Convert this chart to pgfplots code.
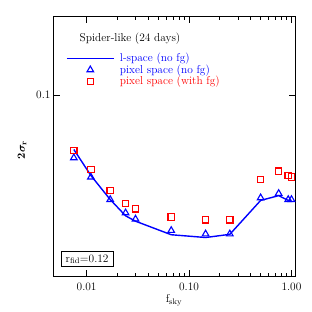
\documentclass[border=0pt]{standalone}
\usepackage{pgfplots}
\usepackage{bm}
\pgfplotsset{compat=1.18}
\definecolor{pblue}{RGB}{0,0,255}
\definecolor{pred}{RGB}{255,0,0}
\pgfplotsset{
  lineleg/.style={legend image code/.code={\draw[pblue, line width=1.2pt] (0pt,0pt) -- (47pt,0pt);}},
  markleg/.style={legend image code/.code={\draw[mark repeat=2,mark phase=2,##1] plot coordinates {(0pt,0pt) (23.5pt,0pt) (47pt,0pt)};}},
}
\begin{document}
\begin{tikzpicture}[font=\fontsize{11.4}{13.5}\selectfont]
\path[use as bounding box] (-54pt,-35.3pt) rectangle (258pt,276.7pt);
\begin{axis}[
  at={(0,0)}, anchor=south west,
  scale only axis, width=241.7pt, height=260pt,
  xmode=log, ymode=log,
  xmin=0.0048, xmax=1.1, ymin=0.02, ymax=0.2,
  xtick={0.01,0.1,1}, xticklabels={0.01,0.10,1.00},
  ytick={0.1}, yticklabels={0.1},
  tick align=inside, major tick length=6.5pt, minor tick length=3.3pt,
  axis line style={line width=1pt}, tick style={black, line width=0.8pt},
  xticklabel style={yshift=-3pt},
  xlabel={f$_{\mathrm{sky}}$}, ylabel={$\mathbf{2}\bm{\sigma}_{\mathbf{r}}$},
  xlabel style={at={(axis description cs:0.4965,-0.0896)}, anchor=center},
  ylabel style={at={(axis description cs:-0.132,0.487)}, anchor=center},
  legend style={at={(axis description cs:0.0497,0.862)}, anchor=north west, draw=none, fill=none,
    inner sep=0pt, row sep=0.5pt, nodes={inner ysep=0.5pt, inner xsep=5.5pt}},
  legend cell align=left,
]
\addplot[pblue, line width=1.4pt, mark=none, lineleg]
 coordinates {(0.0075,0.0617) (0.011,0.0490) (0.017,0.0396) (0.024,0.0343) (0.03,0.0327)
 (0.067,0.0290) (0.145,0.0283) (0.25,0.0291) (0.5,0.0393) (0.75,0.0410) (0.93,0.0393) (1.0,0.0393)};
\addlegendentry{\textcolor{pblue}{l-space (no fg)}}
\addplot[pblue, only marks, mark=triangle, mark size=3.8pt, line width=1.1pt, markleg]
 coordinates {(0.0075,0.0573) (0.011,0.0483) (0.017,0.0396) (0.024,0.0352) (0.03,0.0333)
 (0.067,0.0301) (0.145,0.0292) (0.25,0.0292) (0.5,0.0402) (0.75,0.0418) (0.93,0.0396) (1.0,0.0396)};
\addlegendentry{\textcolor{pblue}{pixel space (no fg)}}
\addplot[pred, only marks, mark=square, mark size=3.2pt, line width=1.1pt, markleg]
 coordinates {(0.0075,0.0612) (0.011,0.0516) (0.017,0.0430) (0.024,0.0382) (0.03,0.0365)
 (0.067,0.0339) (0.145,0.0331) (0.25,0.0331) (0.5,0.0474) (0.75,0.0509) (0.93,0.0490) (1.0,0.0483)};
\addlegendentry{\textcolor{pred}{pixel space (with fg)}}
\node[anchor=center] at (axis description cs:0.3145,0.914) {Spider-like (24 days)};
\node[draw=black, line width=1pt, minimum width=52pt, minimum height=15pt, inner sep=2pt, anchor=center]
  at (axis description cs:0.137,0.0673) {r$_{\mathrm{fid}}$=0.12};
\end{axis}
\end{tikzpicture}
\end{document}
